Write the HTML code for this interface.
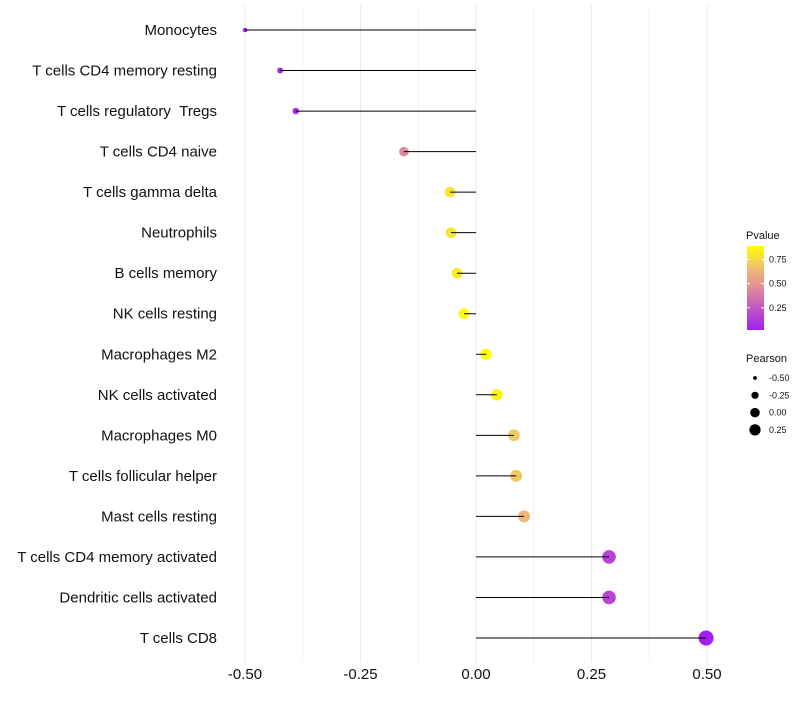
<!DOCTYPE html>
<html><head><meta charset="utf-8"><style>
body{margin:0;background:#fff;font-family:"Liberation Sans",sans-serif}
</style></head><body>
<svg id="chart" width="800" height="700" xmlns="http://www.w3.org/2000/svg"></svg>
<script>
const categories=["Monocytes","T cells CD4 memory resting","T cells regulatory\u00a0\u00a0Tregs","T cells CD4 naive","T cells gamma delta","Neutrophils","B cells memory","NK cells resting","Macrophages M2","NK cells activated","Macrophages M0","T cells follicular helper","Mast cells resting","T cells CD4 memory activated","Dendritic cells activated","T cells CD8"];
const pearson=[-0.50,-0.424,-0.39,-0.156,-0.056,-0.054,-0.041,-0.026,0.022,0.045,0.082,0.087,0.104,0.288,0.288,0.498];
const pvalues=[0.02,0.05,0.08,0.45,0.80,0.80,0.82,0.87,0.89,0.84,0.70,0.70,0.64,0.17,0.17,0.03];
const xTicks=[-0.5,-0.25,0,0.25,0.5];
const xTickLabels=["-0.50","-0.25","0.00","0.25","0.50"];
const pTicks=[0.25,0.5,0.75];
const sizeTicks=[-0.5,-0.25,0,0.25];

const svg=document.getElementById('chart');
const NS='http://www.w3.org/2000/svg';
function mk(tag,attrs,parent){const e=document.createElementNS(NS,tag);for(const k in attrs)e.setAttribute(k,attrs[k]);(parent||svg).appendChild(e);return e;}
const x=v=>476+v*462;
const y=i=>30+i*(608/15);
const r=v=>Math.sqrt(Math.max(31+52*v,2.2));
const pMin=0.02,pMax=0.89;
function col(p){
  let t=Math.min(1,Math.max(0,(p-pMin)/(pMax-pMin)));
  const s=[[160,32,240],[224,138,154],[240,192,112],[255,255,0]];
  const o=[0,0.5,0.75,1];
  let k=0;while(k<2&&t>o[k+1])k++;
  const u=(t-o[k])/(o[k+1]-o[k]);const a=s[k],b=s[k+1];
  return 'rgb('+a.map((c,j)=>Math.round(c+(b[j]-c)*u)).join(',')+')';
}
for(let v=-0.5;v<=0.5001;v+=0.125){
  const g=mk('line',{x1:x(v),x2:x(v),y1:5,y2:662,stroke:'#ebebeb','stroke-width':Math.abs((v*4)%1)<0.01?1:0.6});
  
}
categories.forEach((c,i)=>{
  const cy=y(i);
  const pt=mk('circle',{cx:x(pearson[i]),cy:cy,r:r(pearson[i]),fill:col(pvalues[i])});
  
  
  const ln=mk('line',{x1:x(0),x2:x(pearson[i]),y1:cy,y2:cy,stroke:'#000','stroke-width':1});
  
  
  const t=mk('text',{x:217,y:cy+5,'text-anchor':'end','font-size':15,fill:'#111'});
  t.textContent=c;
  
  
});
xTicks.forEach((v,i)=>{
  const t=mk('text',{x:x(v),y:679,'text-anchor':'middle','font-size':15,fill:'#111'});
  t.textContent=xTickLabels[i];
  
  
});
const defs=mk('defs',{});
const grad=mk('linearGradient',{id:'pg',x1:0,y1:1,x2:0,y2:0},defs);
for(let k=0;k<=20;k++){mk('stop',{offset:k/20,'stop-color':col(pMin+(pMax-pMin)*k/20)},grad);}
const lt=mk('text',{x:746,y:239,'font-size':11,fill:'#111'});lt.textContent='Pvalue';

const bar=mk('rect',{x:747,y:246,width:17,height:84,fill:'url(#pg)'});

const py=p=>330-(p-pMin)/(pMax-pMin)*84;
pTicks.forEach(p=>{
  mk('line',{x1:747,x2:750,y1:py(p),y2:py(p),stroke:'#fff'});
  mk('line',{x1:761,x2:764,y1:py(p),y2:py(p),stroke:'#fff'});
  const t=mk('text',{x:769,y:py(p)+3,'font-size':9,fill:'#111'});t.textContent=p.toFixed(2);
  
});
const st=mk('text',{x:746,y:362,'font-size':11,fill:'#111'});st.textContent='Pearson';

sizeTicks.forEach((v,i)=>{
  const cy=378+i*17.3;
  const c=mk('circle',{cx:755,cy:cy,r:r(v)*0.85,fill:'#000'});
  
  const t=mk('text',{x:769,y:cy+3,'font-size':9,fill:'#111'});t.textContent=v.toFixed(2);
  
});
</script>
</body></html>
